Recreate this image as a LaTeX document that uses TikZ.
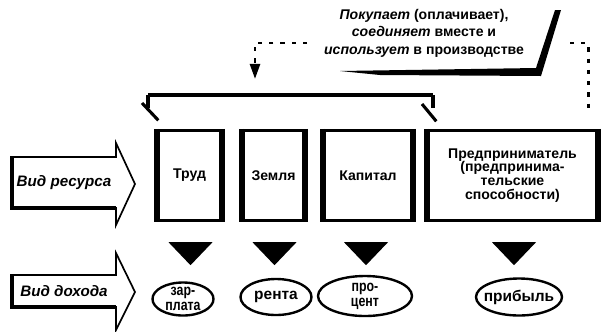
\documentclass[tikz,border=0pt]{standalone}
\usepackage{fontspec}
\setmainfont{Liberation Sans}
\usepackage{tikz}
\usetikzlibrary{arrows.meta,calc,shapes.geometric}

\begin{document}
\begin{tikzpicture}[x=0.025cm, y=-0.025cm, font=\bfseries,
    resbox/.style={rectangle, draw, line width=2.4pt, minimum height=2.25cm, inner sep=0pt, align=center},
    income/.style={ellipse, draw, line width=1.7pt, inner sep=0pt},
    incometext/.style={align=center, inner sep=0pt, font=\bfseries\fontsize{11}{11}\selectfont},
    narrowtext/.style={align=center, inner sep=0pt, font=\bfseries\fontsize{11}{10.6}\selectfont\addfontfeatures{FakeStretch=0.8}},
    dotline/.style={line width=2pt, dash pattern=on 3pt off 5pt},
    legend/.style={font=\bfseries\itshape\fontsize{10.8}{12}\selectfont}]
        \useasboundingbox (0,0) rectangle (603,331);
        \def\boxy{175.5}
        \def\sidew{3.8pt}

        % resources
        \node(trud) [resbox, minimum width=1.55cm] at (189.5,\boxy) {Труд};
        \node(zemlya) [resbox, minimum width=1.5cm] at (273.5,\boxy) {Земля};
        \node(kapital) [resbox, minimum width=2.2cm] at (368,\boxy) {Капитал};
        \node(predpr) [resbox, minimum width=4.2cm, font=\bfseries\fontsize{10}{9.8}\selectfont] at (512.5,\boxy) {Предприниматель\\(предпринима-\\тельские\\способности)};
        \foreach \b in {trud, zemlya, kapital, predpr}
            \draw[line width=\sidew] (\b.north west) -- (\b.south west) (\b.north east) -- (\b.south east);

        % down triangles
        \foreach \b/\dx in {trud/1, zemlya/1, kapital/-2, predpr/1.5}
            \fill ($(\b.south)+(\dx-22,20)$) -- ++(44,0) -- ++(-22,23) -- cycle;

        % incomes
        \node(zarplata) [income, minimum width=1.525cm, minimum height=0.825cm, label={[narrowtext]center:{зар-\\плата}}] at (183,299) {};
        \node(renta) [income, minimum width=1.775cm, minimum height=0.9cm, label={[incometext]center:рента}] at (276,297) {};
        \node(procent) [income, minimum width=2.35cm, minimum height=1.0cm, label={[narrowtext]center:{про-\\цент}}] at (365,296) {};
        \node(pribyl) [income, minimum width=2.15cm, minimum height=0.925cm, label={[incometext]center:прибыль}] at (519,297) {};

        % row arrows
        \draw[line width=1.2pt, line join=miter] (12,157) -- (116,157) -- (116,143) -- (135,184) -- (116,225) -- (116,208) -- (12,208) -- cycle;
        \draw[line width=2.6pt] (12,156) -- (12,208) -- (116,208);
        \node(resurs) [legend] at (64,183) {Вид ресурса};
        \draw[line width=1.2pt, line join=miter] (12,275) -- (116,275) -- (116,253) -- (135,292) -- (116,330) -- (116,307) -- (12,307) -- cycle;
        \draw[line width=2.6pt] (12,274) -- (12,307) -- (116,307);
        \node(dohod) [legend] at (64,291) {Вид дохода};

        % bracket over the resources
        \coordinate (brl) at (148,95);
        \coordinate (brr) at (433,95);
        \draw[line width=2.6pt] (brl) -- (brr);
        \draw[line width=2.2pt] (brl) -- ++(0,13);
        \draw[line width=2.2pt] ($(brl)+(-6,8)$) -- ($(trud.north west)+(1.5,-8.5)$);
        \draw[line width=2.2pt] (brr) -- ++(0,13);
        \draw[line width=2.2pt] ($(brr)+(-11,9)$) -- ($(predpr.north west)+(9.5,-7.5)$);

        % what the entrepreneur does
        \node(pokupaet) [align=center, font=\bfseries\fontsize{10}{12.4}\selectfont] at (424,33) {\textit{Покупает} (оплачивает),\\\textit{соединяет} вместе и\\\textit{использует} в производстве};
        \fill (340,71) -- (536,68) -- (555,10) -- (561,10) -- (541,76) -- (380,75) -- cycle;
        \coordinate (arrtip) at (255,79);
        \draw[dotline, -{Triangle[length=0.38cm, width=0.25cm]}] ($(pokupaet.west)+(-12,10)$) -| (arrtip);
        \coordinate (rs) at (570,43);
        \draw[dotline] (rs) -| ($(predpr.north east)+(-10,-20)$);
    \end{tikzpicture}
\end{document}
